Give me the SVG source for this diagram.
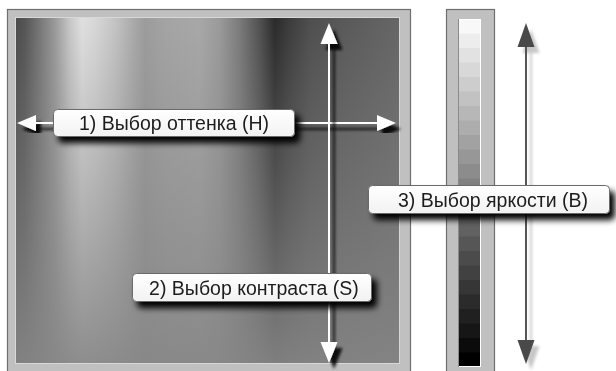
<svg xmlns="http://www.w3.org/2000/svg" width="616" height="371" viewBox="0 0 616 371">
<style>
.frame{fill:#c0c0c0;stroke:#6e6e6e;stroke-width:1.2}
.lbl{fill:url(#lblg);stroke:#6a6a6a;stroke-width:1}
.lt{font-family:"Liberation Sans",Arial,sans-serif;font-size:19.5px;fill:#1e1e1e;text-anchor:middle}
.wl{stroke:#ffffff;stroke-width:2;fill:none}
.dl{stroke:#555555;stroke-width:2;fill:none}
.st rect{width:23px;height:15px}
</style>
<defs>
<linearGradient id="hue" x1="15" y1="0" x2="400" y2="0" gradientUnits="userSpaceOnUse">
<stop offset="0" stop-color="#4a4a4a"/>
<stop offset="0.026" stop-color="#555"/>
<stop offset="0.065" stop-color="#777"/>
<stop offset="0.104" stop-color="#9a9a9a"/>
<stop offset="0.143" stop-color="#c8c8c8"/>
<stop offset="0.174" stop-color="#e0e0e0"/>
<stop offset="0.208" stop-color="#d8d8d8"/>
<stop offset="0.26" stop-color="#c4c4c4"/>
<stop offset="0.312" stop-color="#a8a8a8"/>
<stop offset="0.338" stop-color="#9c9c9c"/>
<stop offset="0.39" stop-color="#a4a4a4"/>
<stop offset="0.48" stop-color="#a8a8a8"/>
<stop offset="0.532" stop-color="#9a9a9a"/>
<stop offset="0.584" stop-color="#7a7a7a"/>
<stop offset="0.636" stop-color="#505050"/>
<stop offset="0.675" stop-color="#2a2a2a"/>
<stop offset="0.714" stop-color="#3c3c3c"/>
<stop offset="0.766" stop-color="#4e4e4e"/>
<stop offset="0.844" stop-color="#585858"/>
<stop offset="1" stop-color="#666"/>
</linearGradient>
<linearGradient id="sat" x1="0" y1="17" x2="0" y2="364" gradientUnits="userSpaceOnUse">
<stop offset="0" stop-color="#868686" stop-opacity="0"/>
<stop offset="1" stop-color="#868686" stop-opacity="0.92"/>
</linearGradient>
<linearGradient id="lblg" x1="0" y1="0" x2="0" y2="1">
<stop offset="0" stop-color="#ffffff"/>
<stop offset="1" stop-color="#f2f2f2"/>
</linearGradient>
<filter id="sh" x="-20%" y="-50%" width="140%" height="220%">
<feGaussianBlur in="SourceAlpha" stdDeviation="3"/>
<feOffset dx="5" dy="6"/>
<feComponentTransfer><feFuncA type="linear" slope="1"/></feComponentTransfer>
<feMerge><feMergeNode/><feMergeNode in="SourceGraphic"/></feMerge>
</filter>
<filter id="shd" x="-50%" y="-10%" width="250%" height="120%">
<feGaussianBlur in="SourceAlpha" stdDeviation="1.8"/>
<feOffset dx="5" dy="6"/>
<feComponentTransfer><feFuncA type="linear" slope="0.9"/></feComponentTransfer>
<feMerge><feMergeNode/><feMergeNode in="SourceGraphic"/></feMerge>
</filter>
<filter id="shl" x="-50%" y="-10%" width="250%" height="120%">
<feGaussianBlur in="SourceAlpha" stdDeviation="1.8"/>
<feOffset dx="5" dy="6"/>
<feComponentTransfer><feFuncA type="linear" slope="0.22"/></feComponentTransfer>
<feMerge><feMergeNode/><feMergeNode in="SourceGraphic"/></feMerge>
</filter>
</defs>
<rect width="616" height="371" fill="#ffffff"/>

<g id="hs-panel">
<rect class="frame" x="7.5" y="9.5" width="403" height="370"/>
<rect x="15" y="17" width="385" height="347" fill="url(#hue)"/>
<rect x="15" y="17" width="385" height="347" fill="url(#sat)"/>
<rect x="15.5" y="17.5" width="384" height="346" fill="none" stroke="#d8d8d8" stroke-width="1"/>
</g>

<g id="b-strip">
<rect class="frame" x="446.5" y="9.5" width="48" height="370"/>
<g class="st">
<rect x="458" y="19" fill="#f8f8f8"/>
<rect x="458" y="33.5" fill="#ededed"/>
<rect x="458" y="48" fill="#e2e2e2"/>
<rect x="458" y="62.5" fill="#d8d8d8"/>
<rect x="458" y="77" fill="#cdcdcd"/>
<rect x="458" y="91.5" fill="#c2c2c2"/>
<rect x="458" y="106" fill="#b7b7b7"/>
<rect x="458" y="120.5" fill="#adadad"/>
<rect x="458" y="135" fill="#a2a2a2"/>
<rect x="458" y="149.5" fill="#979797"/>
<rect x="458" y="164" fill="#8c8c8c"/>
<rect x="458" y="178.5" fill="#818181"/>
<rect x="458" y="193" fill="#777777"/>
<rect x="458" y="207.5" fill="#6c6c6c"/>
<rect x="458" y="222" fill="#616161"/>
<rect x="458" y="236.5" fill="#565656"/>
<rect x="458" y="251" fill="#4b4b4b"/>
<rect x="458" y="265.5" fill="#414141"/>
<rect x="458" y="280" fill="#363636"/>
<rect x="458" y="294.5" fill="#2b2b2b"/>
<rect x="458" y="309" fill="#202020"/>
<rect x="458" y="323.5" fill="#161616"/>
<rect x="458" y="338" fill="#0b0b0b"/>
<rect x="458" y="352.5" fill="#000000" style="height:14.5px"/>
</g>
<rect x="458.5" y="19.5" width="22" height="347" fill="none" stroke="#ffffff" stroke-width="1"/>
<line x1="458.5" y1="19" x2="458.5" y2="367" stroke="#8a8a8a" stroke-width="1"/>
</g>

<g id="connectors">
<g filter="url(#shd)">
<line class="wl" x1="30" y1="123" x2="382" y2="123"/>
<polygon points="17,123 36,115 36,131" fill="#fff"/>
<polygon points="396,123 377,115 377,131" fill="#fff"/>
</g>
<g filter="url(#shd)">
<line class="wl" x1="329" y1="38" x2="329" y2="348"/>
<polygon points="329,23 320.5,44 337.5,44" fill="#fff"/>
<polygon points="329,363 320.5,342 337.5,342" fill="#fff"/>
</g>
<g filter="url(#shl)">
<line class="dl" x1="526" y1="40" x2="526" y2="346"/>
<polygon points="526,23 517.5,47 534.5,47" fill="#4a4a4a"/>
<polygon points="526,364 517.5,340 534.5,340" fill="#4a4a4a"/>
</g>
</g>

<g id="label-h" filter="url(#sh)">
<rect class="lbl" x="53.5" y="109.5" width="241" height="27" rx="4"/>
<text class="lt" x="174" y="130">1) Выбор оттенка (H)</text>
</g>
<g id="label-s" filter="url(#sh)">
<rect class="lbl" x="132.5" y="273.5" width="239" height="28" rx="4"/>
<text class="lt" x="254" y="294.5">2) Выбор контраста (S)</text>
</g>
<g id="label-b" filter="url(#sh)">
<rect class="lbl" x="368.5" y="185.5" width="241" height="28" rx="4"/>
<text class="lt" x="493" y="206.5">3) Выбор яркости (B)</text>
</g>
</svg>
